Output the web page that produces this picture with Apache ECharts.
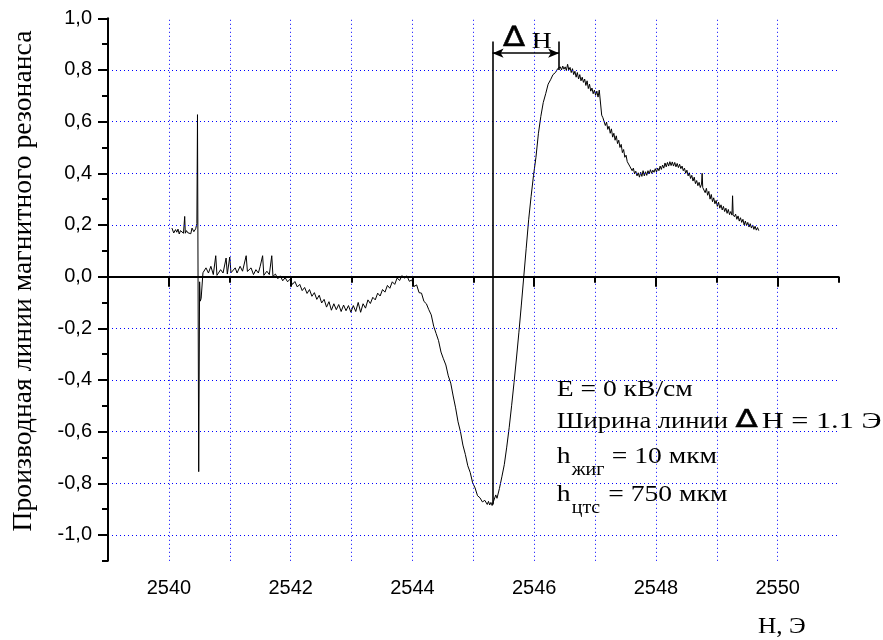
<!DOCTYPE html>
<html>
<head>
<meta charset="utf-8">
<script src="https://cdn.jsdelivr.net/npm/echarts@6/dist/echarts.min.js"></script>
<style>html,body{margin:0;padding:0;background:#fff}#c{width:883px;height:640px}</style>
</head>
<body>
<div id="c"></div>
<script>
// ---- axis values ----
const xLabelValues = [2540, 2542, 2544, 2546, 2548, 2550];
const xMajorTicks = [2540, 2542, 2544, 2546, 2548, 2550];
const xMinorTicks = [2539, 2541, 2543, 2545, 2547, 2549, 2551];
const yLabelValues = [-1.0, -0.8, -0.6, -0.4, -0.2, 0.0, 0.2, 0.4, 0.6, 0.8, 1.0];
const yMinorTicks = [-1.1, -0.9, -0.7, -0.5, -0.3, -0.1, 0.1, 0.3, 0.5, 0.7, 0.9];
const gridX = [2540, 2541, 2542, 2543, 2544, 2545, 2546, 2547, 2548, 2549, 2550];
const gridY = [-1.0, -0.8, -0.6, -0.4, -0.2, 0.0, 0.2, 0.4, 0.6, 0.8];

// ---- measured trace: [H (Oe), derivative] ----
const traceStart = [
[2540.05,0.188],[2540.08,0.169],[2540.11,0.182],[2540.13,0.172],[2540.15,0.184],[2540.17,0.165],
[2540.19,0.178],[2540.21,0.18],[2540.24,0.168],[2540.26,0.233],[2540.27,0.168],[2540.29,0.178],
[2540.31,0.17],[2540.34,0.176],[2540.36,0.166],[2540.38,0.188],[2540.41,0.174],[2540.44,0.185],
[2540.46,0.205],[2540.47,0.627],[2540.49,-0.755],[2540.505,-0.02],[2540.515,-0.095],[2540.53,-0.085],
[2540.56,0.015]
];
const traceBaseline = [
[2540.61,0.034],[2540.65,0.014],[2540.69,0.04],[2540.73,0.008],[2540.77,0.081],[2540.79,0.005],
[2540.81,0.001],[2540.85,0.027],[2540.89,0.014],[2540.94,0.072],[2540.96,0.01],[2540.97,0.008],
[2541.00,0.076],[2541.02,0.015],[2541.04,0.021],[2541.09,0.034],[2541.12,0.014],[2541.17,0.04],
[2541.21,0.021],[2541.27,0.081],[2541.29,0.02],[2541.30,0.021],[2541.35,0.034],[2541.39,0.008],
[2541.43,0.027],[2541.47,0.014],[2541.50,0.04],[2541.54,0.081],[2541.56,0.005],[2541.57,0.001],
[2541.61,0.021],[2541.65,0.008],[2541.69,0.081],[2541.71,0.001]
];
const traceValley = [
[2541.75,0.01],[2541.79,-0.008],[2541.83,0.003],[2541.87,-0.016],[2541.91,-0.004],[2541.95,-0.02],
[2541.99,-0.01],[2542.03,-0.03],[2542.07,-0.019],[2542.11,-0.04],[2542.15,-0.03],[2542.19,-0.054],
[2542.23,-0.042],[2542.27,-0.065],[2542.31,-0.05],[2542.35,-0.076],[2542.39,-0.062],[2542.43,-0.088],
[2542.47,-0.072],[2542.51,-0.102],[2542.55,-0.088],[2542.59,-0.118],[2542.63,-0.097],[2542.67,-0.13],
[2542.71,-0.105],[2542.75,-0.128],[2542.79,-0.108],[2542.83,-0.135],[2542.87,-0.11],[2542.91,-0.132],
[2542.95,-0.112],[2542.99,-0.138],[2543.03,-0.112],[2543.07,-0.135],[2543.11,-0.1],[2543.15,-0.138],
[2543.19,-0.105],[2543.23,-0.122],[2543.27,-0.09],[2543.31,-0.104],[2543.35,-0.08],[2543.39,-0.09],
[2543.43,-0.064],[2543.47,-0.075],[2543.51,-0.05],[2543.55,-0.06],[2543.59,-0.034],[2543.63,-0.045],
[2543.67,-0.02],[2543.71,-0.03],[2543.75,-0.005],[2543.79,-0.015],[2543.83,0.004],[2543.87,-0.006],
[2543.91,0.003],[2543.95,-0.018],[2543.99,-0.013],[2544.03,-0.038],[2544.07,-0.032],[2544.11,-0.062],
[2544.15,-0.064],[2544.19,-0.096],[2544.23,-0.105]
];
const traceDip = [
[2544.27,-0.128],[2544.31,-0.148],[2544.35,-0.192],[2544.39,-0.22],[2544.43,-0.248],[2544.47,-0.292],
[2544.51,-0.318],[2544.55,-0.342],[2544.59,-0.384],[2544.63,-0.412],[2544.67,-0.462],[2544.71,-0.508],
[2544.75,-0.562],[2544.79,-0.6],[2544.83,-0.652],[2544.87,-0.688],[2544.91,-0.732],[2544.95,-0.758],
[2544.99,-0.798],[2545.03,-0.818],[2545.07,-0.848],[2545.11,-0.856],[2545.15,-0.872],[2545.19,-0.866],
[2545.23,-0.882],[2545.25,-0.87],[2545.27,-0.884],[2545.29,-0.874],[2545.31,-0.886],[2545.33,-0.872],
[2545.35,-0.878],[2545.37,-0.845],[2545.39,-0.858],[2545.43,-0.82],[2545.47,-0.775],[2545.51,-0.728],
[2545.55,-0.66],[2545.59,-0.585],[2545.63,-0.5],[2545.67,-0.41],[2545.71,-0.315],[2545.75,-0.215],
[2545.79,-0.11],[2545.83,0.0],[2545.87,0.11],[2545.91,0.22],[2545.95,0.31],[2545.99,0.392],
[2546.03,0.462],[2546.07,0.553],[2546.11,0.62],[2546.15,0.674],[2546.19,0.708],[2546.23,0.745],
[2546.27,0.762],[2546.31,0.782],[2546.35,0.79],[2546.39,0.806]
];
const tracePeak = [
[2546.43,0.812],[2546.45,0.8],[2546.47,0.815],[2546.49,0.803],[2546.51,0.812],[2546.53,0.798],
[2546.55,0.822],[2546.57,0.8],[2546.59,0.81],[2546.61,0.79],[2546.63,0.805],[2546.65,0.782],
[2546.67,0.795],[2546.69,0.772],[2546.71,0.79],[2546.73,0.765],[2546.75,0.782],[2546.77,0.758],
[2546.79,0.772],[2546.81,0.752],[2546.83,0.765],[2546.85,0.74],[2546.87,0.758],[2546.89,0.728],
[2546.91,0.745],[2546.93,0.718],[2546.95,0.73],[2546.97,0.708],[2546.99,0.722],[2547.01,0.702],
[2547.03,0.718],[2547.05,0.695],[2547.07,0.722],[2547.09,0.715],[2547.11,0.625],[2547.13,0.615],
[2547.15,0.6],[2547.17,0.585],[2547.19,0.598],[2547.21,0.57],[2547.23,0.582],[2547.25,0.555],
[2547.27,0.572],[2547.29,0.54],[2547.31,0.555],[2547.33,0.528],[2547.35,0.545],[2547.37,0.515],
[2547.39,0.528],[2547.41,0.5],[2547.43,0.512],[2547.45,0.48],[2547.47,0.492],[2547.49,0.462],
[2547.51,0.47],[2547.53,0.445],[2547.55,0.452],[2547.57,0.428],[2547.59,0.435],[2547.61,0.41],
[2547.63,0.42],[2547.65,0.398],[2547.67,0.408],[2547.69,0.39],[2547.71,0.402],[2547.73,0.385]
];
const traceTail = [
[2547.75,0.404],[2547.77,0.388],[2547.79,0.41],[2547.81,0.39],[2547.83,0.406],[2547.85,0.392],
[2547.87,0.41],[2547.89,0.398],[2547.91,0.414],[2547.93,0.4],[2547.95,0.412],[2547.97,0.404],
[2547.99,0.418],[2548.01,0.405],[2548.03,0.42],[2548.05,0.41],[2548.07,0.428],[2548.09,0.415],
[2548.11,0.432],[2548.13,0.42],[2548.15,0.44],[2548.17,0.425],[2548.19,0.442],[2548.21,0.428],
[2548.23,0.445],[2548.25,0.43],[2548.27,0.444],[2548.29,0.428],[2548.31,0.442],[2548.33,0.425],
[2548.35,0.438],[2548.37,0.422],[2548.39,0.435],[2548.41,0.418],[2548.43,0.428],[2548.45,0.41],
[2548.47,0.42],[2548.49,0.4],[2548.51,0.412],[2548.53,0.39],[2548.55,0.402],[2548.57,0.38],
[2548.59,0.392],[2548.61,0.37],[2548.63,0.385],[2548.65,0.36],[2548.67,0.372],[2548.69,0.352],
[2548.71,0.365],[2548.73,0.345],[2548.75,0.358],[2548.76,0.4],[2548.77,0.345],[2548.79,0.35],
[2548.81,0.325],[2548.83,0.342],[2548.85,0.315],[2548.87,0.33],[2548.89,0.3],[2548.91,0.318],
[2548.93,0.29],[2548.95,0.305],[2548.97,0.282],[2548.99,0.295],[2549.01,0.272],[2549.03,0.288],
[2549.05,0.265],[2549.07,0.278],[2549.09,0.258],[2549.11,0.272],[2549.13,0.252],[2549.15,0.265],
[2549.17,0.245],[2549.19,0.26],[2549.21,0.24],[2549.23,0.252],[2549.25,0.238],[2549.26,0.313],
[2549.27,0.24],[2549.29,0.232],[2549.31,0.242],[2549.33,0.222],[2549.35,0.235],[2549.37,0.215],
[2549.39,0.228],[2549.41,0.21],[2549.43,0.222],[2549.45,0.2],[2549.47,0.215],[2549.49,0.198],
[2549.51,0.21],[2549.53,0.192],[2549.55,0.205],[2549.57,0.188],[2549.59,0.2],[2549.61,0.183],
[2549.63,0.195],[2549.65,0.18],[2549.67,0.19],[2549.69,0.178]
];
const trace = [].concat(traceStart, traceBaseline, traceValley, traceDip, tracePeak, traceTail);

// ---- ΔH annotation (data coordinates) ----
const dhLeftX = 2545.317, dhRightX = 2546.41;
const dhTopY = 0.91, dhArrowY = 0.865, dhLeftBottom = -0.882, dhRightBottom = 0.80;

const SERIF = 'Liberation Serif';
const SANS = 'Liberation Sans';
const fmt = v => (Math.abs(v) < 1e-9 ? 0 : v).toFixed(1).replace('.', ',');

// text placed by its baseline
function txt(text, x, baseline, size, opts) {
  opts = opts || {};
  const dejavu = opts.family === 'dejavu';
  const off = (dejavu ? 0.30 : 0.21) * size;
  const st = {
    text: text, fill: '#000',
    fontSize: size, fontFamily: dejavu ? 'DejaVu Sans' : SERIF,
    align: opts.align || 'left', textAlign: opts.align || 'left',
    verticalAlign: 'middle', textVerticalAlign: 'middle'
  };
  if (opts.strokeW) { st.stroke = '#000'; st.lineWidth = opts.strokeW; }
  return {
    type: 'text', x: x, y: baseline - off, z: 60,
    scaleX: opts.sx || 1, scaleY: opts.sy || 1,
    style: st
  };
}

const chart = echarts.init(document.getElementById('c'), null, {renderer: 'canvas'});
const axisBlack = {lineStyle: {color: '#000', width: 2}};
chart.setOption({
  animation: false,
  backgroundColor: '#fff',
  grid: {left: 108, right: 44.5, top: 18.3, bottom: 79.2, containLabel: false},
  xAxis: [
    {type: 'value', min: 2539, max: 2551, interval: 1, z: 20,
     axisLine: axisBlack, splitLine: {show: false},
     axisTick: {show: true, length: 10, lineStyle: {color: '#000', width: 2}, customValues: xMajorTicks},
     axisLabel: {customValues: xLabelValues, color: '#000', fontSize: 20, fontFamily: SANS, margin: 18,
                 formatter: v => String(v)}},
    {type: 'value', min: 2539, max: 2551, interval: 1, position: 'bottom', z: 20,
     axisLine: {show: false}, splitLine: {show: false},
     axisTick: {show: true, length: 6, lineStyle: {color: '#000', width: 2}, customValues: xMinorTicks},
     axisLabel: {show: false}}
  ],
  yAxis: [
    {type: 'value', min: -1.1, max: 1.0, interval: 0.1, z: 20,
     name: 'Производная линии магнитного резонанса', nameLocation: 'middle', nameRotate: 90, nameGap: 70,
     nameTextStyle: {fontFamily: SERIF, fontSize: 27.7, color: '#000', padding: [0, 0, 0, 17]},
     axisLine: axisBlack, splitLine: {show: false},
     axisTick: {show: true, length: 10, lineStyle: {color: '#000', width: 2}, customValues: yLabelValues},
     axisLabel: {customValues: yLabelValues, color: '#000', fontSize: 20, fontFamily: SANS, margin: 16,
                 formatter: fmt}},
    {type: 'value', min: -1.1, max: 1.0, interval: 0.1, position: 'left', z: 20,
     axisLine: {show: false}, splitLine: {show: false},
     axisTick: {show: true, length: 6, lineStyle: {color: '#000', width: 2}, customValues: yMinorTicks},
     axisLabel: {show: false}}
  ],
  series: [
    {type: 'line', name: 'grid', data: [], z: 1, silent: true,
     markLine: {silent: true, animation: false, symbol: ['none', 'none'], label: {show: false},
                lineStyle: {color: '#0000ff', type: [1, 3], width: 1},
                data: gridX.map(v => ({xAxis: v})).concat(gridY.map(v => ({yAxis: v})))}},
    {type: 'line', name: 'signal', data: trace, z: 3, symbol: 'none', showSymbol: false,
     lineStyle: {color: '#000', width: 1}, sampling: false},
    {type: 'line', name: 'dh', data: [], z: 4, silent: true,
     markLine: {silent: true, animation: false, symbol: ['none', 'none'], label: {show: false},
                lineStyle: {color: '#000', width: 1.6, type: 'solid'},
                data: [
                  [{coord: [dhLeftX, dhTopY]}, {coord: [dhLeftX, dhLeftBottom]}],
                  [{coord: [dhRightX, dhTopY]}, {coord: [dhRightX, dhRightBottom]}],
                  [{coord: [dhLeftX, dhArrowY], symbol: 'arrow', symbolSize: [7, 11]},
                   {coord: [dhRightX, dhArrowY], symbol: 'arrow', symbolSize: [7, 11]}]
                ]}}
  ],
  graphic: [
    {type: 'rect', z: 2, shape: {x: 530, y: 355, width: 353, height: 168}, style: {fill: '#fff'}},
    {type: 'rect', z: 2, shape: {x: 499, y: 22, width: 57, height: 27}, style: {fill: '#fff'}},
    // x axis title
    txt('H, Э', 758, 631.7, 23, {sx: 1.1}),
    // ΔH label
    txt('∆', 514, 46.7, 28, {family: 'dejavu', align: 'center', sx: 1.15, strokeW: 0.5}),
    txt('H', 531.7, 46.7, 24, {sx: 1.15}),
    // info block
    txt('E = 0 кВ/см', 556.7, 395, 23, {sx: 1.2}),
    txt('Ширина линии', 556.7, 427, 23, {sx: 1.155}),
    txt('∆', 746.5, 428, 25, {family: 'dejavu', align: 'center', sx: 1.3, strokeW: 0.45}),
    txt('H = 1.1 Э', 761.7, 427, 23, {sx: 1.32}),
    txt('h', 556.7, 461.7, 23, {sx: 1.2}),
    txt('жиг', 571.7, 474, 19, {sx: 1.05}),
    txt('= 10 мкм', 611.7, 461.7, 23, {sx: 1.2}),
    txt('h', 556.7, 500, 23, {sx: 1.2}),
    txt('цтс', 571.7, 512, 19, {sx: 1.05}),
    txt('= 750 мкм', 608.3, 500, 23, {sx: 1.2})
  ]
});
</script>
</body>
</html>
